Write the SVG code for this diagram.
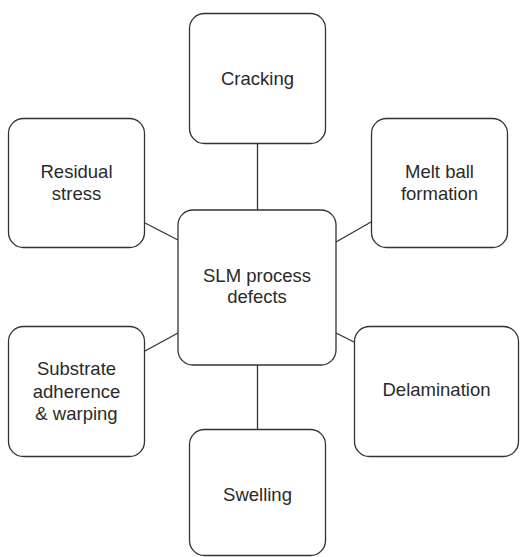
<svg xmlns="http://www.w3.org/2000/svg" width="520" height="557" viewBox="0 0 520 557">
<style>
.box{fill:#fff;stroke:#333;stroke-width:1.3}
.lbl{font-family:"Liberation Sans",Arial,sans-serif;font-size:18.5px;fill:#2a2a2a;text-anchor:middle}
.con{stroke:#333;stroke-width:1.3;fill:none}
</style>
<rect width="520" height="557" fill="#fff"/>
<g id="connectors">
<line class="con" x1="257.5" y1="143" x2="257.5" y2="210"/>
<line class="con" x1="145" y1="223" x2="178" y2="240"/>
<line class="con" x1="371" y1="222" x2="336" y2="242"/>
<line class="con" x1="145" y1="351" x2="178" y2="333"/>
<line class="con" x1="354" y1="342" x2="336" y2="333"/>
<line class="con" x1="257.5" y1="365" x2="257.5" y2="429"/>
</g>
<g id="center">
<rect class="box" x="178" y="210" width="158" height="155" rx="15"/>
<text class="lbl" x="257" y="282">SLM process</text>
<text class="lbl" x="257" y="303">defects</text>
</g>
<g id="cracking">
<rect class="box" x="189.5" y="13.5" width="136" height="130" rx="15"/>
<text class="lbl" x="257.5" y="85">Cracking</text>
</g>
<g id="residual">
<rect class="box" x="8.5" y="118.5" width="136" height="129" rx="15"/>
<text class="lbl" x="76.5" y="178">Residual</text>
<text class="lbl" x="76.5" y="200">stress</text>
</g>
<g id="melt">
<rect class="box" x="371.5" y="118.5" width="136" height="129" rx="15"/>
<text class="lbl" x="439.5" y="178">Melt ball</text>
<text class="lbl" x="439.5" y="200">formation</text>
</g>
<g id="substrate">
<rect class="box" x="8.5" y="326.5" width="136" height="130" rx="15"/>
<text class="lbl" x="76.5" y="375">Substrate</text>
<text class="lbl" x="76.5" y="398">adherence</text>
<text class="lbl" x="76.5" y="420">&amp; warping</text>
</g>
<g id="delamination">
<rect class="box" x="354.5" y="326.5" width="164" height="130" rx="15"/>
<text class="lbl" x="436.5" y="396">Delamination</text>
</g>
<g id="swelling">
<rect class="box" x="189.5" y="429.5" width="136" height="126" rx="15"/>
<text class="lbl" x="257.5" y="501">Swelling</text>
</g>
</svg>
